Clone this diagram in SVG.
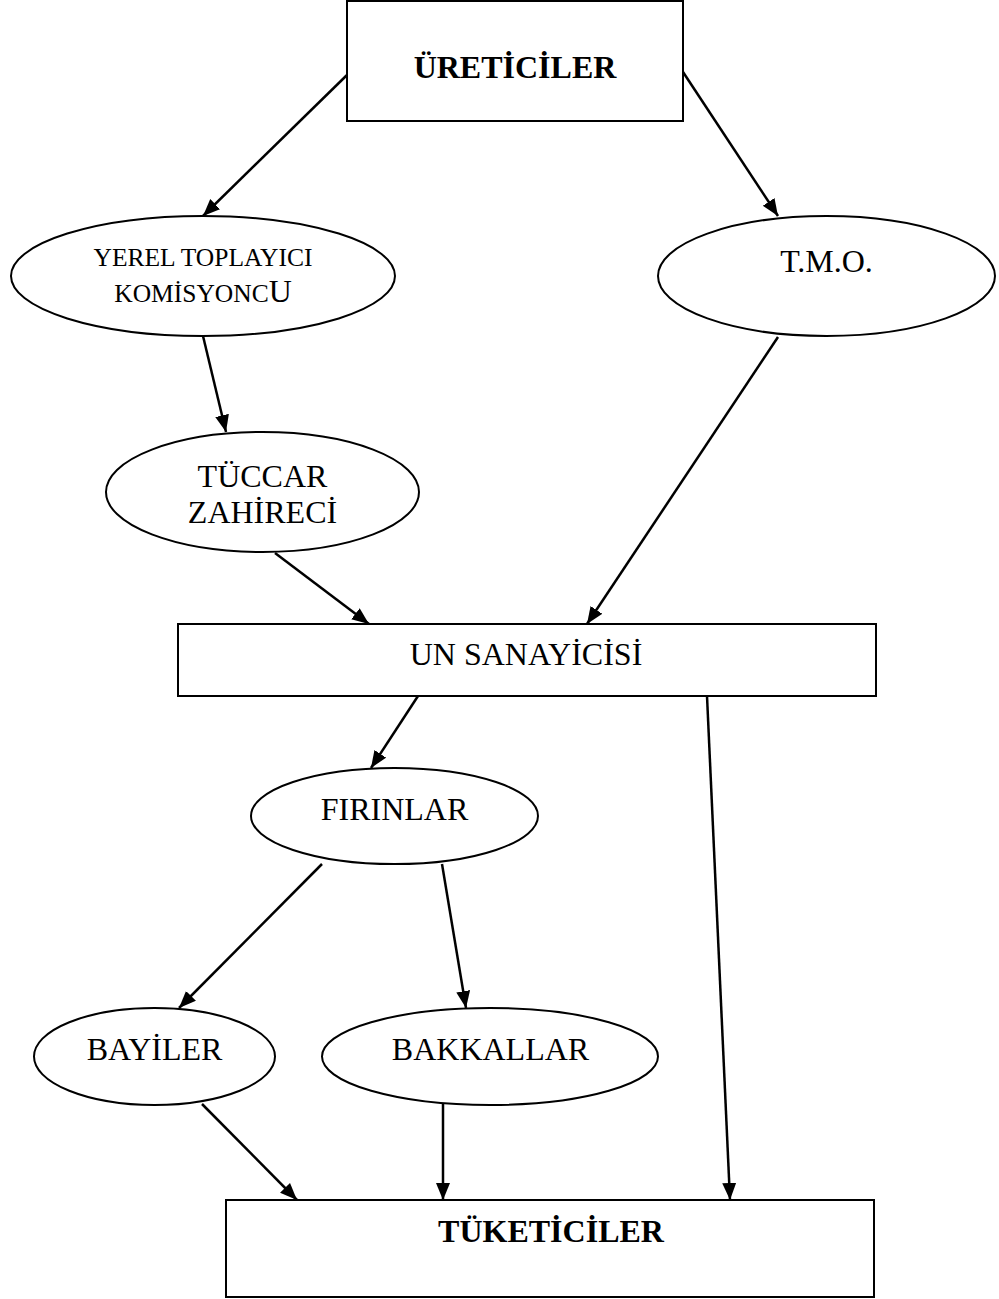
<svg xmlns="http://www.w3.org/2000/svg" width="999" height="1299" viewBox="0 0 999 1299">
<style>
.box{fill:#fff;stroke:#000;stroke-width:2}
.ell{fill:#fff;stroke:#000;stroke-width:2}
.t{font-family:"Liberation Serif","Times New Roman",serif;font-size:32px;fill:#000;text-anchor:middle}
.b{font-weight:bold}
.s{font-size:25.5px}
.conn line{stroke:#000;stroke-width:2.5;marker-end:url(#ah)}
</style>
<defs>
<marker id="ah" markerUnits="userSpaceOnUse" markerWidth="18" markerHeight="16" refX="17" refY="7" orient="auto">
<path d="M0,0 L17,7 L0,14 z" fill="#000"/>
</marker>
</defs>
<rect width="999" height="1299" fill="#fff"/>
<g id="connectors" class="conn">
<line x1="347" y1="75" x2="203" y2="216"/>
<line x1="683" y1="72" x2="778" y2="216"/>
<line x1="203" y1="336" x2="226" y2="432"/>
<line x1="275" y1="553" x2="369" y2="624"/>
<line x1="778" y1="337" x2="587" y2="624"/>
<line x1="418" y1="696" x2="371" y2="768"/>
<line x1="707" y1="696" x2="730" y2="1200"/>
<line x1="322" y1="864" x2="179" y2="1008"/>
<line x1="442" y1="864" x2="466" y2="1008"/>
<line x1="202" y1="1104" x2="297" y2="1200"/>
<line x1="443" y1="1104" x2="443" y2="1200"/>
</g>
<g id="ureticiler">
<rect class="box" x="347" y="1" width="336" height="120"/>
<text class="t b" x="515" y="78">ÜRETİCİLER</text>
</g>
<g id="yerel">
<ellipse class="ell" cx="203" cy="276" rx="192" ry="60"/>
<text class="t s" x="203" y="266">YEREL TOPLAYICI</text>
<text class="t s" x="203" y="302">KOMİSYONC<tspan style="font-size:32px">U</tspan></text>
</g>
<g id="tmo">
<ellipse class="ell" cx="826.5" cy="276" rx="168.5" ry="60"/>
<text class="t" x="826.5" y="272">T.M.O.</text>
</g>
<g id="tuccar">
<ellipse class="ell" cx="262.5" cy="492" rx="156.5" ry="60"/>
<text class="t" x="262.5" y="487">TÜCCAR</text>
<text class="t" x="262.5" y="523">ZAHİRECİ</text>
</g>
<g id="un">
<rect class="box" x="178" y="624" width="698" height="72"/>
<text class="t" x="526" y="665">UN SANAYİCİSİ</text>
</g>
<g id="firinlar">
<ellipse class="ell" cx="394.5" cy="816" rx="143.5" ry="48"/>
<text class="t" x="394.5" y="820">FIRINLAR</text>
</g>
<g id="bayiler">
<ellipse class="ell" cx="154.5" cy="1056.5" rx="120.5" ry="48.5"/>
<text class="t" x="154.5" y="1060">BAYİLER</text>
</g>
<g id="bakkallar">
<ellipse class="ell" cx="490" cy="1056.5" rx="168" ry="48.5"/>
<text class="t" x="490.5" y="1060">BAKKALLAR</text>
</g>
<g id="tuketiciler">
<rect class="box" x="226" y="1200" width="648" height="97"/>
<text class="t b" x="551" y="1242">TÜKETİCİLER</text>
</g>
</svg>
